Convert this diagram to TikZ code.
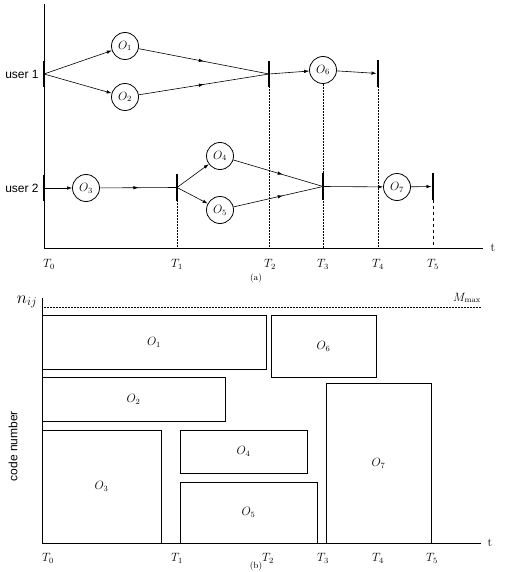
\documentclass[tikz,border=0pt]{standalone}
\usepackage{fontspec}
\newfontfamily\arialfont{Liberation Sans}
\usetikzlibrary{arrows.meta,decorations.markings}

\tikzstyle{oper}=[circle, minimum size=27pt, draw=black, line width=0.8pt, inner sep=0pt, font=\large]
\tikzstyle{tbar}=[fill=black, draw=none, minimum width=2.6pt, minimum height=26pt, inner sep=0pt]
\tikzstyle{guide}=[densely dotted, line width=0.5pt]
\tikzstyle{job}=[draw=black, line width=0.9pt]
\tikzstyle{axis}=[line width=0.9pt]
\tikzstyle{tlab}=[font=\large]
\tikzstyle{side}=[font=\fontsize{12}{14}\arialfont]
\tikzset{midarr/.style={postaction={decorate}, decoration={markings, mark=at position #1 with {\arrow{Latex[length=5pt,width=3.5pt]}}}}}

\begin{document}
\begin{tikzpicture}[x=1pt, y=-1pt, >={Latex[length=5pt,width=3.5pt]}]
    \useasboundingbox (0,0) rectangle (516,572);

    % (a) precedence graph
    \coordinate (aTop) at (44,4);
    \coordinate (aOrig) at (44,248);
    \coordinate (aEnd) at (483,248);
    \draw[axis] (aTop) -- (aOrig) -- (aEnd);
    \node (at) [tlab] at (493,248) {t};

    \node (user1) [side] at (22,74) {user 1};
    \node (user2) [side] at (22,188) {user 2};

    \node (u1s) [tbar] at (44,74) {};
    \node (u1a) [tbar] at (269,74) {};
    \node (u1b) [tbar, minimum height=27pt] at (378,73.5) {};
    \node (u2s) [tbar] at (44,188) {};
    \node (u2a) [tbar, minimum height=27pt] at (177,187.5) {};
    \node (u2b) [tbar, minimum height=27pt] at (323,186.5) {};
    \node (u2c) [tbar, minimum height=27pt] at (433,186.5) {};

    \node (o1) [oper] at (125,46) {$O_1$};
    \node (o2) [oper] at (125,97) {$O_2$};
    \node (o6) [oper] at (323,70) {$O_6$};
    \node (o3) [oper] at (86,188) {$O_3$};
    \node (o4) [oper] at (220,156) {$O_4$};
    \node (o5) [oper] at (220,210) {$O_5$};
    \node (o7) [oper] at (397,187) {$O_7$};

    \draw[guide] (u2a.south) -- (u2a.south |- aOrig);
    \draw[guide] (u1a.south) -- (u1a.south |- aOrig);
    \draw[guide] (o6.south) -- (o6.south |- aOrig);
    \draw[guide] (u1b.south) -- (u1b.south |- aOrig);
    \draw[dashed, line width=1pt] (u2c.south) -- (u2c.south |- aOrig);

    \path[->, line width=0.6pt]
    (u1s.center) edge (o1)
    (u1s.center) edge (o2)
    (u1a.center) edge (o6)
    (o6) edge (u1b)
    (u2s.center) edge (o3)
    (u2a.center) edge (o4)
    (u2a.center) edge (o5)
    (u2b.center) edge (o7)
    (o7) edge (u2c);
    \draw[midarr=0.5, line width=0.6pt] (o1) -- (u1a.center);
    \draw[midarr=0.5, line width=0.6pt] (o2) -- (u1a.center);
    \draw[midarr=0.5, line width=0.6pt] (o3) -- (u2a.center);
    \draw[midarr=0.55, line width=0.6pt] (o4) -- (u2b.center);
    \draw[midarr=0.55, line width=0.6pt] (o5) -- (u2b.center);

    \node (aT0) [tlab] at (49,264) {$T_0$};
    \node (aT1) [tlab] at (177,264) {$T_1$};
    \node (aT2) [tlab] at (270,264) {$T_2$};
    \node (aT3) [tlab] at (323,264) {$T_3$};
    \node (aT4) [tlab] at (378,264) {$T_4$};
    \node (aT5) [tlab] at (433,264) {$T_5$};
    \node (capa) at (256,278) {\small (a)};

    % (b) code allocation
    \coordinate (bTop) at (42,298);
    \coordinate (bOrig) at (42,543);
    \coordinate (bEnd) at (481,543);
    \coordinate (mL) at (42,307);
    \coordinate (mR) at (481,307);
    \draw[guide] (mL) -- (mR);
    \node (nij) at (27,302) {\LARGE $n_{ij}$};
    \node (mmax) at (467,298) {\large $M_{\max}$};
    \node (cnum) [side, rotate=90] at (13,446) {code number};

    \draw[job] (42,315) rectangle (266,369) node[midway, font=\large] (b1) {$O_1$};
    \draw[job] (271,315) rectangle (376,377) node[midway, font=\large] (b6) {$O_6$};
    \draw[job] (42,377) rectangle (225,421) node[midway, font=\large] (b2) {$O_2$};
    \draw[job] (42,430) rectangle (161,543) node[midway, font=\large] (b3) {$O_3$};
    \draw[job] (180,430) rectangle (307,473) node[midway, font=\large] (b4) {$O_4$};
    \draw[job] (180,482) rectangle (317,543) node[midway, font=\large] (b5) {$O_5$};
    \draw[job] (326,383) rectangle (431,543) node[midway, font=\large] (b7) {$O_7$};
    \draw[axis] (bTop) -- (bOrig) -- (bEnd);
    \node (bt) [tlab] at (490,543) {t};

    \node (bT0) [tlab] at (48,558) {$T_0$};
    \node (bT1) [tlab] at (177,558) {$T_1$};
    \node (bT2) [tlab] at (268,558) {$T_2$};
    \node (bT3) [tlab] at (323,558) {$T_3$};
    \node (bT4) [tlab] at (378,558) {$T_4$};
    \node (bT5) [tlab] at (432,558) {$T_5$};
    \node (capb) at (256,566) {\small (b)};
\end{tikzpicture}
\end{document}
